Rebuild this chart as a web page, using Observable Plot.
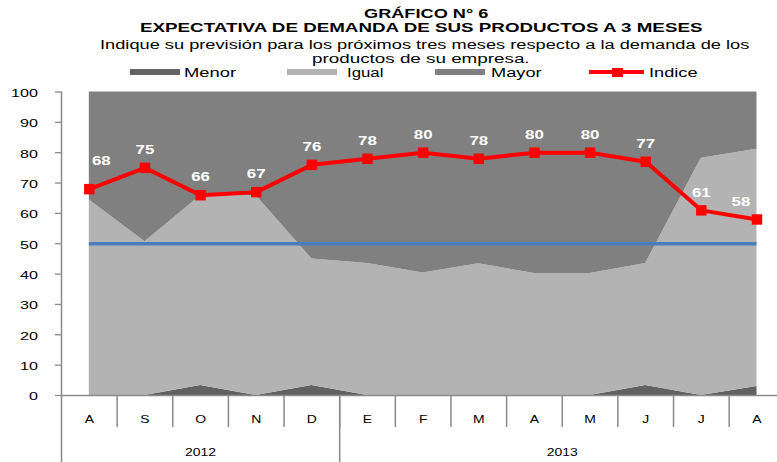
<!DOCTYPE html>
<html><head><meta charset="utf-8">
<script src="https://cdn.jsdelivr.net/npm/d3@7"></script>
<script src="https://cdn.jsdelivr.net/npm/@observablehq/plot@0.6"></script>
<style>
body{margin:0;background:#fff;font-family:"Liberation Sans",Arial,sans-serif;color:#000}
#wrap{position:relative;width:777px;height:462px;overflow:hidden}
#head{position:relative;height:80px}
.ln{position:absolute;white-space:nowrap;line-height:1;transform-origin:0 0}
.sw{position:absolute}
#chart svg{display:block}
</style></head><body>
<div id="wrap"><div id="head"></div><div id="chart"></div></div>
<script>
// ---- data ----
const meses = ["A","S","O","N","D","E","F","M","A","M","J","J","A"];
const anioMes = ["2012","2012","2012","2012","2012","2013","2013","2013","2013","2013","2013","2013","2013"];
const series = ["Menor","Igual","Mayor"];
const menor = [0, 0, 3.3, 0, 3.3, 0, 0, 0, 0, 0, 3.3, 0, 3];
const igual = [64.4, 50.7, 62.5, 65.8, 41.7, 43.5, 40.4, 43.4, 40.2, 40.2, 40.2, 78.2, 78.1];
const mayor = [35.6, 49.3, 34.2, 34.2, 55.0, 56.5, 59.6, 56.6, 59.8, 59.8, 56.5, 21.8, 18.9];
const indice = [68, 75, 66, 67, 76, 78, 80, 78, 80, 80, 77, 61, 58];
const referencia = 50;
const yTicks = [0, 10, 20, 30, 40, 50, 60, 70, 80, 90, 100];
const colores = ["#616161", "#b3b3b3", "#808080"];

// ---- header ----
const head = document.getElementById("head");
function line(text, x0, x1, base, size, bold) {
  const el = document.createElement("span");
  el.className = "ln"; el.textContent = text;
  el.style.fontSize = size + "px";
  el.style.fontWeight = bold ? "bold" : "normal";
  el.style.left = x0 + "px";
  el.style.top = (base - 0.8465 * size) + "px";
  head.appendChild(el);
  const w = el.offsetWidth;
  el.style.transform = `scaleX(${(x1 - x0) / w})`;
}
function box(x, y, w, h, c) {
  const el = document.createElement("div");
  el.className = "sw";
  Object.assign(el.style, {left: x + "px", top: y + "px", width: w + "px", height: h + "px", background: c});
  head.appendChild(el);
}
line("GRÁFICO N° 6", 363.5, 488.5, 18.3, 12.5, true);
line("EXPECTATIVA DE DEMANDA DE SUS PRODUCTOS A 3 MESES", 140, 702, 32.3, 13, true);
line("Indique su previsión para los próximos tres meses respecto a la demanda de los", 100, 750, 49.3, 12, false);
line("productos de su empresa.", 312, 530, 63.3, 12, false);
box(129.5, 68.8, 50.5, 5.8, "#646464");
line("Menor", 184.3, 235.7, 77.3, 12.5, false);
box(286.7, 68.8, 50, 5.8, "#b3b3b3");
line("Igual", 346.7, 383, 77.3, 12.5, false);
box(435, 68.8, 50, 5.8, "#808080");
line("Mayor", 490.7, 541.7, 77.3, 12.5, false);
box(589, 70.2, 55, 4, "#ff0000");
box(611.8, 68.3, 11.5, 9, "#ff0000");
line("Indice", 649.3, 697.3, 77.3, 12.5, false);

// ---- chart ----
const n = meses.length;
const idx = d3.range(n);
const valores = {Menor: menor, Igual: igual, Mayor: mayor};
const filas = series.flatMap(s => valores[s].map((v, i) => ({i, serie: s, v})));
const separadores = idx.slice(1).map(i => i - 0.5);
const anios = [...new Set(anioMes)].map(a => {
  const is = idx.filter(i => anioMes[i] === a);
  return {a, c: (is[0] + is[is.length - 1]) / 2, fin: is[is.length - 1] + 0.5};
});
const gris = "#8a8a8a";
const lbl = {x: (d, i) => i, y: d => d, text: d => String(d), fill: "white", fontWeight: "bold", fontSize: 13};

const chart = Plot.plot({
  width: 777, height: 382,
  marginLeft: 61, marginRight: -7.3, marginTop: 11.5, marginBottom: 67,
  x: {domain: [-0.5, 12.5], range: [61, 784.3], axis: null},
  y: {domain: [0, 100], range: [315, 11.5], axis: null},
  color: {domain: series, range: colores},
  style: {fontFamily: "Liberation Sans, Arial, sans-serif", fontSize: "10px", background: "transparent", color: "#000"},
  marks: [
    Plot.areaY(filas, {x: "i", y: "v", fill: "serie", order: series}),
    Plot.ruleY([referencia], {x1: () => 0, x2: () => n - 1, stroke: "#4a7ebb", strokeWidth: 3.5}),
    Plot.lineY(indice, {x: (d, i) => i, y: d => d, stroke: "#ff0000", strokeWidth: 4}),
    Plot.dot(indice, {x: (d, i) => i, y: d => d, symbol: "square", r: 5.9, fill: "#ff0000"}),
    Plot.text(indice, {...lbl, filter: (d, i) => i > 0 && i < n - 1, dy: -18}),
    Plot.text(indice, {...lbl, filter: (d, i) => i === 0, dx: 12, dy: -28}),
    Plot.text(indice, {...lbl, filter: (d, i) => i === n - 1, dx: -16, dy: -18}),
    // y axis
    Plot.ruleX([-0.5], {insetBottom: -67, stroke: gris, strokeWidth: 1.5}),
    Plot.ruleY(yTicks, {y: d => d, x1: () => -0.5, x2: () => -0.5, insetLeft: -6, stroke: gris, strokeWidth: 1.3}),
    Plot.text(yTicks, {y: d => d, text: d => String(d), frameAnchor: "left", dx: -23.6, dy: 1.5, textAnchor: "end", fontSize: 10.4, fill: "#000"}),
    // x axis
    Plot.ruleY([0], {stroke: gris, strokeWidth: 1.5}),
    Plot.ruleX(separadores, {x: d => d, y1: () => 0, y2: () => 0, insetBottom: -32, stroke: gris, strokeWidth: 1.5}),
    Plot.ruleX(anios, {x: d => d.fin, y1: () => 0, y2: () => 0, insetBottom: -67, stroke: gris, strokeWidth: 1.5}),
    Plot.text(meses, {x: (d, i) => i, y: () => 0, text: d => d, dy: 23.7, fontSize: 10.5, fill: "#000"}),
    Plot.text(anios, {x: d => d.c, y: () => 0, text: d => d.a, dy: 57, fontSize: 10.5, fill: "#000"})
  ]
});
document.getElementById("chart").appendChild(chart);

// horizontal stretch of the text, as in the reference
const stretch = {"13": 1.3, "10.4": 1.55, "10.5": 1.33};
chart.querySelectorAll("text").forEach(t => {
  const g = t.closest("[font-size]");
  const s = g ? stretch[String(parseFloat(g.getAttribute("font-size")))] : null;
  if (!s) return;
  const tr = t.getAttribute("transform") || "";
  if (/translate/.test(tr)) t.setAttribute("transform", tr + ` scale(${s},1)`);
  else {
    const x = parseFloat(t.getAttribute("x")) || 0, y = parseFloat(t.getAttribute("y")) || 0;
    t.setAttribute("transform", `translate(${x},${y}) scale(${s},1) translate(${-x},${-y})`);
  }
});
</script></body></html>
